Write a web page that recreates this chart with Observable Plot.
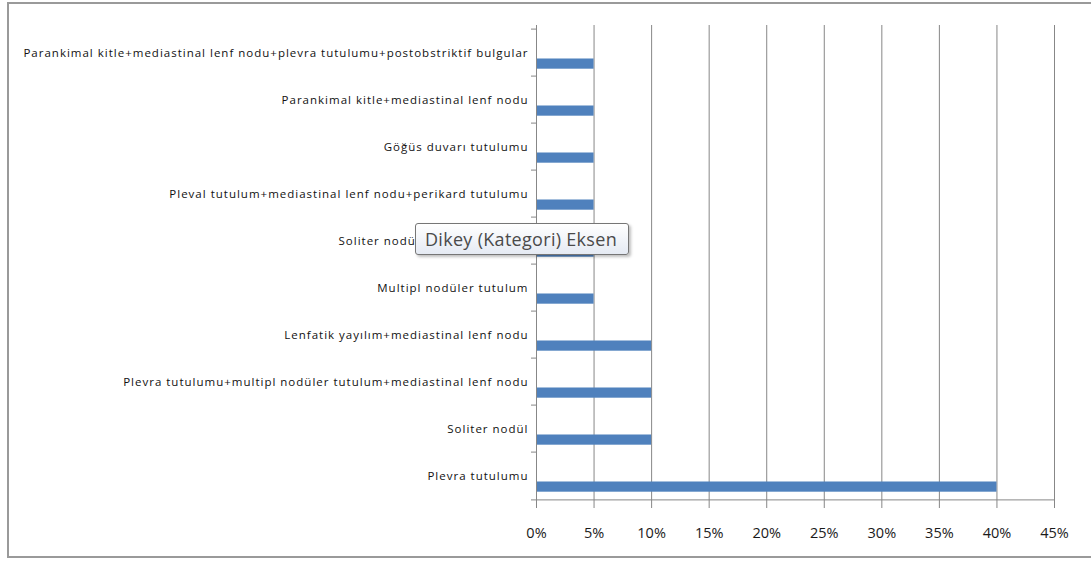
<!DOCTYPE html>
<html>
<head>
<meta charset="utf-8">
<script src="https://cdn.jsdelivr.net/npm/d3@7"></script>
<script src="https://cdn.jsdelivr.net/npm/@observablehq/plot@0.6"></script>
<style>
  html, body { margin: 0; padding: 0; background: #ffffff; }
  #wrap { position: relative; width: 1091px; height: 561px; overflow: hidden; background: #fff; }
  #frame { position: absolute; left: 7px; top: 2px; width: 1100px; height: 556px; border: 2px solid #9a9a9a; box-sizing: border-box; pointer-events: none; }
  #chart { position: absolute; left: 0; top: 0; }
  #chart g[aria-label="y-axis tick label"] text { letter-spacing: 1px; }
  #tip { position: absolute; left: 415px; top: 223px; width: 214px; height: 32px; box-sizing: border-box;
         border: 1px solid #767676; border-radius: 3px;
         background: linear-gradient(#ffffff, #e5eaf3);
         box-shadow: 2px 2px 3px rgba(0,0,0,0.25);
         font-family: "Open Sans", sans-serif; font-size: 18px; letter-spacing: 0.3px; color: #4a4a4a;
         line-height: 30px; padding-left: 9px; white-space: nowrap; }
</style>
</head>
<body>
<div id="wrap">
  <div id="chart"></div>
  <div id="frame"></div>
  <div id="tip">Dikey (Kategori) Eksen</div>
</div>
<script>
const categories = [
  "Parankimal kitle+mediastinal lenf nodu+plevra tutulumu+postobstriktif bulgular",
  "Parankimal kitle+mediastinal lenf nodu",
  "Göğüs duvarı tutulumu",
  "Pleval tutulum+mediastinal lenf nodu+perikard tutulumu",
  "Soliter nodül+plevra tutulumu",
  "Multipl nodüler tutulum",
  "Lenfatik yayılım+mediastinal lenf nodu",
  "Plevra tutulumu+multipl nodüler tutulum+mediastinal lenf nodu",
  "Soliter nodül",
  "Plevra tutulumu"
];
const values = [0.05, 0.05, 0.05, 0.05, 0.05, 0.05, 0.10, 0.10, 0.10, 0.40];
const xTicks = [0, 0.05, 0.10, 0.15, 0.20, 0.25, 0.30, 0.35, 0.40, 0.45];

const data = categories.map((c, i) => ({category: c, value: values[i]}));

const W = 1091, H = 561;
const mL = 536, mR = 37, mT = 25, mB = 58;
const band = (H - mT - mB) / categories.length;
const tickLenData = 5 * (0.45 / (W - mL - mR));
const grid = "#878787";

const chart = Plot.plot({
  width: W, height: H,
  marginLeft: mL, marginRight: mR, marginTop: mT, marginBottom: mB,
  x: {domain: [0, 0.45]},
  y: {domain: categories, padding: 0, label: null},
  style: {background: "transparent", fontFamily: "'Open Sans', sans-serif"},
  marks: [
    Plot.ruleX(xTicks.slice(1), {stroke: grid, strokeWidth: 1}),
    Plot.barX(data, {x: "value", y: "category", fill: "#4F81BD", insetTop: band * 0.617, insetBottom: band * 0.153}),
    Plot.ruleX([0], {stroke: grid, strokeWidth: 1}),
    Plot.ruleY(categories, {y: d => d, x1: -tickLenData, x2: 0, dy: -band / 2, stroke: grid}),
    Plot.ruleY([categories[categories.length - 1]], {y: d => d, x1: -tickLenData, x2: 0.45, dy: band / 2, stroke: grid}),
    Plot.axisY({tickSize: 0, tickPadding: 8, fontSize: 11.5, fill: "#111", label: null}),
    Plot.axisX({ticks: xTicks, tickFormat: d3.format(".0%"), tickSize: 5, tickPadding: 19, fontSize: 14.5, stroke: grid, fill: "#1a1a1a", label: null})
  ]
});
document.getElementById("chart").appendChild(chart);
</script>
</body>
</html>
